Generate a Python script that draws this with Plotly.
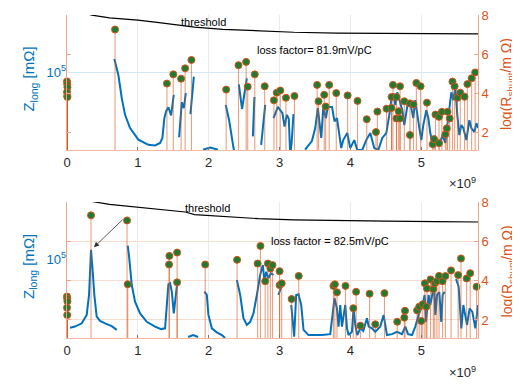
import plotly.graph_objects as go

# ---------------- data (frequencies in GHz, shown with x10^9) ----------------
# top panel: longitudinal impedance (mOhm), None = gap
top_f = [0.668, 0.725, 0.773, 0.819, 0.890, 1.007, 1.148, 1.243, 1.314, 1.346, 1.374, 1.398, 1.431, 1.469, 1.507, None,
         1.582, 1.62, 1.648, 1.677, None,
         1.742, 1.79, None,
         1.92, 2.02, 2.13, None,
         2.24, 2.288, 2.35, 2.39, None,
         2.425, 2.47, 2.538, None,
         2.623, 2.645, None,
         2.74, 2.797, None,
         2.914, 2.976, 3.04, 3.07, 3.103, 3.13, 3.15, 3.17, 3.196, None,
         3.36, 3.456, 3.503, 3.54, 3.588, 3.616, 3.654, 3.68, 3.74, 3.775, 3.81, 3.83, 3.87,
         3.898, 3.955, 3.997, 4.054, 4.096, 4.167, 4.223, 4.28, 4.336, 4.393, 4.449, 4.506, 4.548, 4.576,
         4.605, 4.633, 4.661, 4.689, 4.732, 4.76, 4.788, 4.816, 4.859, 4.887, 4.915, 4.944, 4.972, 5.0,
         5.028, 5.071, 5.099, 5.127, 5.169, 5.212, 5.254, 5.297, 5.339, 5.367, 5.395, 5.424, 5.452, 5.48,
         5.508, 5.537, 5.565, 5.593, 5.636, 5.678, 5.706, 5.749, 5.777, 5.805]
top_z = [1.47e5, 9.25e4, 4.73e4, 2.93e4, 2.0e4, 1.43e4, 1.23e4, 1.21e4, 1.30e4, 1.50e4, 2.66e4, 3.23e4, 3.65e4, 2.88e4, 5.2e4, None,
         1.53e4, 4.22e4, 3.55e4, 5.47e4, None,
         2.99e4, 8.84e4, None,
         1.07e4, 1.14e4, 1.07e4, None,
         3.9e4, 2.5e4, 1.12e4, 7.9e3, None,
         7.08e4, 3.47e4, 8.4e4, None,
         1.57e4, 4.9e4, None,
         1.23e4, 3.9e4, None,
         2.66e4, 3.68e4, 3.08e4, 2.09e4, 2.93e4, 2.6e4, 9.0e3, 1.3e4, 2.99e4, None,
         1.07e4, 1.37e4, 2.0e4, 3.55e4, 1.5e4, 3.55e4, 2.66e4, 3.68e4, 3.68e4, 2.42e4, 2.66e4, 2.0e4, 1.12e4,
         1.41e4, 1.73e4, 1.12e4, 1.41e4, 1.06e4, 1.06e4, 1.41e4, 1.73e4, 1.12e4, 1.06e4, 1.50e4, 1.73e4, 2.90e4, 4.47e4,
         5.46e4, 3.87e4, 5.62e4, 4.47e4, 3.35e4, 2.18e4, 3.35e4, 4.47e4, 3.55e4, 2.66e4, 4.47e4, 3.16e4, 2.0e4, 1.41e4,
         2.18e4, 3.35e4, 2.66e4, 1.73e4, 1.12e4, 1.50e4, 1.19e4, 1.63e4, 1.30e4, 2.18e4, 3.35e4, 5.62e4, 4.47e4, 6.49e4,
         2.90e4, 1.63e4, 2.18e4, 2.0e4, 1.41e4, 2.51e4, 2.0e4, 1.78e4, 2.30e4, 2.0e4]

# top panel: shunt impedance resonances, log10(R_shunt / mOhm)
top_res_f = [0.0, 0.003, 0.006, 0.0, 0.003, 0.006,
             0.678, 1.41, 1.50, 1.61, 1.667, 1.756, 2.246, 2.42, 2.528, 2.55, 2.65, 2.79, 2.92, 2.96,
             3.01, 3.09, 3.21, 3.53, 3.55, 3.63, 3.65, 3.70, 3.80, 3.96, 4.10, 4.23, 4.36, 4.38,
             4.51, 4.58, 4.58, 4.60, 4.65, 4.65, 4.68, 4.70, 4.70, 4.76, 4.84, 4.84, 4.89, 4.93,
             4.99, 5.08, 5.16, 5.18, 5.20, 5.25, 5.25, 5.29, 5.34, 5.36, 5.37, 5.40, 5.44, 5.47,
             5.51, 5.55, 5.61, 5.65, 5.71, 5.76]
top_res_r = [4.6, 4.45, 4.3, 4.05, 3.85, 3.8,
             7.26, 4.49, 4.96, 4.74, 5.27, 5.70, 4.18, 5.43, 5.60, 4.33, 4.96, 4.35, 3.63, 4.02,
             4.13, 3.76, 3.85, 4.42, 3.58, 3.91, 3.31, 4.42, 4.00, 3.88, 3.60, 2.66, 2.00, 3.05,
             3.20, 3.24, 3.80, 4.42, 3.80, 2.70, 3.07, 4.35, 2.70, 3.58, 3.47, 1.85, 3.42, 4.52,
             4.35, 3.51, 1.38, 1.64, 2.90, 2.78, 1.43, 3.04, 1.89, 2.19, 3.04, 2.70, 4.59, 4.35,
             3.76, 4.02, 3.81, 4.46, 4.76, 5.06]

top_thr_f = [0.30, 0.35, 0.6, 1.0, 1.3, 1.6, 1.8, 2.2, 2.7, 3.2, 3.8, 4.5, 5.2, 5.8]
top_thr_r = [8.05, 8.0, 7.86, 7.74, 7.61, 7.48, 7.38, 7.27, 7.18, 7.12, 7.08, 7.06, 7.05, 7.04]

# bottom panel
bot_f = [0.042, 0.113, 0.208, 0.278, 0.311, 0.339, 0.363, 0.386, 0.419, 0.466, 0.537, 0.631, 0.702, None,
         0.857, 0.876, 0.914, 0.960, 1.031, 1.126, 1.243, 1.328, 1.384, 1.412, 1.431, 1.455, 1.479, 1.507, 1.535, 1.558, None,
         1.709, 1.78, 1.85, None,
         1.939, 1.973, 1.996, 2.044, 2.114, 2.185, 2.232, None,
         2.397, 2.444, 2.49, 2.538, 2.585, 2.631, 2.679, 2.726, 2.764, 2.787, 2.811, 2.843, 2.877, 2.914, None,
         2.984, 3.008, 3.032, None,
         3.164, 3.206, 3.234, 3.267, 3.305, 3.338, 3.408, 3.597, 3.715, 3.747, 3.775, 3.809, 3.832, 3.856, 3.88,
         3.927, 3.951, 3.973, 4.021, 4.044, 4.068, 4.096, 4.138, 4.181, 4.233, 4.258, 4.304, 4.35, 4.421, 4.468,
         4.492, 4.515, 4.586, 4.657, 4.727, 4.774, 4.812, 4.869, 4.915, 4.962, 5.018, 5.047, 5.066, 5.103, 5.127,
         5.151, 5.18, 5.198, 5.222, 5.254, 5.282, 5.301, 5.329, None,
         5.49, 5.527, 5.565, 5.593, 5.645, 5.682, 5.72, 5.763, 5.8]
bot_z = [1.38e4, 1.43e4, 1.57e4, 2.0e4, 3.55e4, 1.30e5, 6.93e4, 3.55e4, 1.90e4, 1.68e4, 1.57e4, 1.45e4, 1.30e4, None,
         1.47e5, 1.07e5, 4.73e4, 2.93e4, 2.09e4, 1.64e4, 1.43e4, 1.33e4, 1.36e4, 2.66e4, 4.83e4, 4.97e4, 3.90e4, 2.09e4, 3.55e4, 5.31e4, None,
         1.06e4, 1.12e4, 1.06e4, None,
         3.90e4, 3.55e4, 2.0e4, 1.36e4, 1.21e4, 1.12e4, 1.03e4, None,
         5.46e4, 3.55e4, 1.82e4, 1.50e4, 1.64e4, 2.09e4, 3.55e4, 6.31e4, 8.41e4, 5.2e4, 6.93e4, 5.74e4, 6.63e4, 6.31e4, None,
         3.55e4, 4.10e4, 4.73e4, None,
         2.66e4, 1.07e4, 3.55e4, 3.62e4, 2.66e4, 1.30e4, 1.12e4, 1.12e4, 1.15e4, 2.19e4, 3.23e4, 2.42e4, 1.43e4, 2.66e4, 1.43e4,
         2.66e4, 1.36e4, 1.12e4, 1.23e4, 2.42e4, 1.50e4, 1.12e4, 1.36e4, 1.26e4, 1.82e4, 1.43e4, 1.36e4, 1.23e4, 1.43e4, 2.0e4,
         1.43e4, 1.12e4, 1.15e4, 1.23e4, 1.15e4, 1.43e4, 1.15e4, 1.12e4, 1.43e4, 2.0e4, 2.66e4, 3.55e4, 1.64e4, 3.55e4, 2.66e4,
         3.55e4, 4.73e4, 2.0e4, 3.55e4, 3.87e4, 1.64e4, 3.55e4, 3.90e4, None,
         5.62e4, 4.51e4, 1.36e4, 2.66e4, 1.50e4, 2.42e4, 2.18e4, 1.36e4, 2.66e4]

bot_res_f = [0.0, 0.003, 0.006, 0.0, 0.003,
             0.339, 0.847, 0.857, 1.445, 1.44, 1.554, 1.554, 1.95, 2.40, 2.69, 2.73, 2.797, 2.835, 2.87,
             2.90, 3.00, 3.00, 3.03, 3.17, 3.27, 3.76, 3.78, 3.81, 3.93, 4.04, 4.08, 4.14, 4.27, 4.35,
             4.48, 4.66, 4.76, 4.77, 4.94, 4.97, 5.00, 5.02, 5.05, 5.07, 5.08, 5.13, 5.17, 5.19, 5.22,
             5.25, 5.30, 5.34, 5.42, 5.52, 5.56, 5.64, 5.69, 5.78]
bot_res_r = [3.2, 3.08, 2.95, 2.63, 2.25,
             7.34, 7.08, 3.82, 5.27, 4.83, 5.44, 3.92, 4.83, 5.07, 4.88, 5.78, 3.98, 4.88, 4.63,
             4.80, 4.49, 3.78, 3.87, 3.07, 4.25, 3.74, 3.82, 3.41, 3.74, 2.60, 3.44, 1.71, 3.34, 1.78,
             3.37, 1.91, 2.12, 2.47, 2.49, 2.68, 1.95, 2.80, 3.87, 2.68, 3.61, 4.07, 3.58, 3.87, 3.98,
             4.25, 3.98, 4.24, 4.53, 4.29, 5.14, 4.12, 4.39, 3.70]

bot_thr_f = [0.30, 0.35, 0.6, 1.0, 1.3, 1.67, 1.8, 2.2, 2.7, 3.2, 3.8, 4.5, 5.2, 5.8]
bot_thr_r = [8.1, 8.05, 7.9, 7.76, 7.63, 7.51, 7.38, 7.27, 7.17, 7.11, 7.07, 7.04, 7.02, 7.0]

x_ticks = [0, 1, 2, 3, 4, 5]
r_ticks = [2, 4, 6, 8]

BLUE = "#0072BD"
ORANGE = "#D95319"
GREEN = "#1f7a32"
FONT = "Liberation Sans, Arial, sans-serif"


def stems(fs, rs):
    xs, ys = [], []
    for f, r in zip(fs, rs):
        xs += [f, f, None]
        ys += [0, r, None]
    return xs, ys


fig = go.Figure()

panels = [
    ("x", "y", "y2", top_f, top_z, top_res_f, top_res_r, top_thr_f, top_thr_r),
    ("x2", "y3", "y4", bot_f, bot_z, bot_res_f, bot_res_r, bot_thr_f, bot_thr_r),
]
for xa, yl, yr, lf, lz, rf, rr, tf, tr in panels:
    fig.add_trace(go.Scatter(x=lf, y=lz, xaxis=xa, yaxis=yl, mode="lines",
                             line=dict(color=BLUE, width=2), connectgaps=False,
                             hoverinfo="skip", showlegend=False))
    sx, sy = stems(rf, rr)
    fig.add_trace(go.Scatter(x=sx, y=sy, xaxis=xa, yaxis=yr, mode="lines",
                             line=dict(color="rgba(217,83,25,0.55)", width=1.1),
                             hoverinfo="skip", showlegend=False))
    fig.add_trace(go.Scatter(x=tf, y=tr, xaxis=xa, yaxis=yr, mode="lines",
                             line=dict(color="black", width=1.2),
                             hoverinfo="skip", showlegend=False))
    fig.add_trace(go.Scatter(x=rf, y=rr, xaxis=xa, yaxis=yr, mode="markers",
                             marker=dict(color=GREEN, size=7, line=dict(color=ORANGE, width=1)),
                             cliponaxis=False, hoverinfo="skip", showlegend=False))

xcommon = dict(range=[0, 5.8], tickmode="array", tickvals=x_ticks,
               ticktext=[str(t) for t in x_ticks], ticks="inside", ticklen=3,
               tickcolor="#777", showgrid=True, gridcolor="#ebebeb", gridwidth=1,
               showline=True, linecolor="#f3b9a3", linewidth=1, zeroline=False,
               tickfont=dict(family=FONT, size=13, color="#262626"))
lcommon = dict(type="log", tickmode="array", tickvals=[1e5],
               ticktext=["10<sup>5</sup>"], ticks="", showline=False, zeroline=False,
               tickfont=dict(family=FONT, size=13, color=BLUE))
rcommon = dict(tickmode="array", tickvals=r_ticks,
               ticktext=[str(t) for t in r_ticks], ticks="inside", ticklen=4,
               tickcolor="#f0a488", showline=True, linecolor="#f0a488", linewidth=1,
               mirror="ticks", zeroline=False, side="right", ticklabeloverflow="allow",
               tickfont=dict(family=FONT, size=13, color=ORANGE))

top_dom = [0.582, 1.0]
bot_dom = [0.0, 0.421]

fig.update_layout(
    width=512, height=376,
    margin=dict(l=59, r=42, t=7, b=46, autoexpand=False),
    paper_bgcolor="white", plot_bgcolor="white",
    font=dict(family=FONT),
    xaxis=dict(domain=[0, 1], anchor="y", **xcommon),
    xaxis2=dict(domain=[0, 1], anchor="y3", **xcommon),
    yaxis=dict(domain=top_dom, anchor="x", range=[4.025, 5.72],
               showgrid=True, gridcolor="#d6e6f5", **lcommon),
    yaxis2=dict(domain=top_dom, anchor="x", overlaying="y", range=[1.08, 8.005],
                showgrid=False, **rcommon),
    yaxis3=dict(domain=bot_dom, anchor="x2", range=[4.0125, 5.7125],
                showgrid=False, **lcommon),
    yaxis4=dict(domain=bot_dom, anchor="x2", overlaying="y3", range=[1.08, 8.02],
                showgrid=True, gridcolor="#f9ddd1", **rcommon),
)

ann = []
txt = dict(family=FONT, size=11, color="black")
ann.append(dict(x=1.92, y=7.66, xref="x", yref="y2", text="threshold", showarrow=False, font=txt))
ann.append(dict(x=3.49, y=6.19, xref="x", yref="y2", text="loss factor= 81.9mV/pC", showarrow=False, font=txt))
ann.append(dict(x=1.98, y=7.69, xref="x2", yref="y4", text="threshold", showarrow=False, font=txt))
ann.append(dict(x=3.71, y=6.02, xref="x2", yref="y4", text="loss factor = 82.5mV/pC", showarrow=False, font=txt))
ann.append(dict(x=0.38, y=5.71, xref="x2", yref="y4", ax=0.805, ay=7.19, axref="x2", ayref="y4",
                text="", showarrow=True, arrowhead=2, arrowsize=1.3, arrowwidth=0.8, arrowcolor="#333"))
for yc_l, yc_r, yx in [(0.80, 0.785, 0.48), (0.22, 0.205, -0.105)]:
    ann.append(dict(x=-0.09, y=yc_l, xref="paper", yref="paper", textangle=-90,
                    xanchor="center", yanchor="middle",
                    text="Z<sub>long</sub> [mΩ]", showarrow=False,
                    font=dict(family=FONT, size=15, color=BLUE)))
    ann.append(dict(x=1.072, y=yc_r, xref="paper", yref="paper", textangle=-90,
                    xanchor="center", yanchor="middle",
                    text="log(R<sub>shunt</sub>/m Ω)", showarrow=False,
                    font=dict(family=FONT, size=14, color=ORANGE)))
    ann.append(dict(x=1.0, y=yx, xref="paper", yref="paper", xanchor="right", yanchor="middle",
                    text="×10<sup>9</sup>", showarrow=False,
                    font=dict(family=FONT, size=13, color="#262626")))
fig.update_layout(annotations=ann)

fig.write_html("out.html")
